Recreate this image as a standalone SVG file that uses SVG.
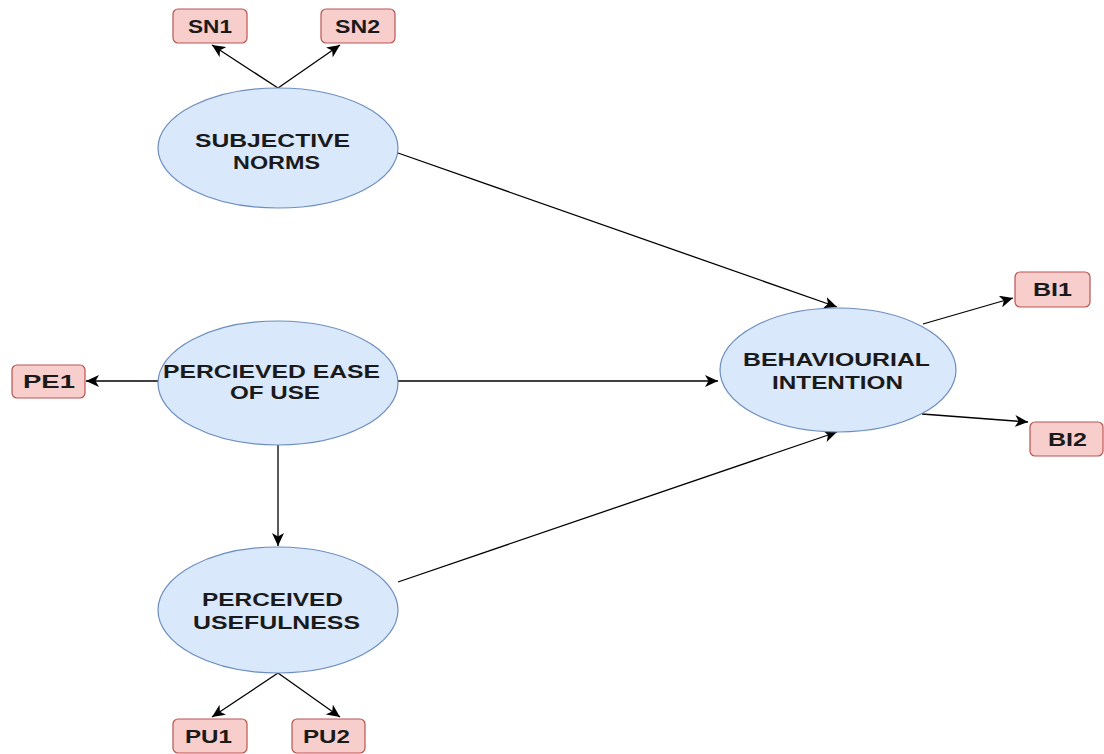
<svg xmlns="http://www.w3.org/2000/svg" width="1104" height="754" viewBox="0 0 1104 754">
<defs>
<marker id="arr" markerUnits="userSpaceOnUse" markerWidth="14" markerHeight="12" viewBox="0 0 14 12" refX="13" refY="6" orient="auto">
<path d="M0,0 L13,6 L0,12 L3.5,6 Z" fill="#000"/>
</marker>
</defs>
<style>
.ell{fill:#dae8fc;stroke:#6c8ebf;stroke-width:1.2}
.box{fill:#f8cecc;stroke:#b85450;stroke-width:1.2}
.t{font-family:"Liberation Sans",Arial,sans-serif;font-weight:bold;font-size:19px;fill:#1a1a1a}
.c{fill:none;stroke:#000;stroke-width:1.3;marker-end:url(#arr)}
</style>
<rect width="1104" height="754" fill="#fff"/>
<g id="connectors">
<line class="c" x1="278" y1="88" x2="212" y2="45"/>
<line class="c" x1="278" y1="88" x2="340" y2="45"/>
<line class="c" x1="398" y1="153" x2="837" y2="307"/>
<line class="c" x1="158" y1="381" x2="86" y2="381"/>
<line class="c" x1="398" y1="381" x2="718" y2="381"/>
<line class="c" x1="278" y1="445" x2="278" y2="546"/>
<line class="c" x1="398" y1="582" x2="837" y2="432"/>
<line class="c" x1="278" y1="673" x2="212" y2="717"/>
<line class="c" x1="278" y1="673" x2="340" y2="717"/>
<line class="c" x1="923" y1="324" x2="1013" y2="298"/>
<line class="c" x1="922" y1="414" x2="1028" y2="422"/>
</g>
<g id="sn">
<ellipse class="ell" cx="278" cy="148" rx="120" ry="60"/>
<text class="t" x="195" y="147" textLength="155" lengthAdjust="spacingAndGlyphs">SUBJECTIVE</text>
<text class="t" x="233" y="169" textLength="87" lengthAdjust="spacingAndGlyphs">NORMS</text>
</g>
<g id="sn1">
<rect class="box" x="173" y="9" width="74" height="34" rx="5"/>
<text class="t" x="188" y="33" textLength="44" lengthAdjust="spacingAndGlyphs">SN1</text>
</g>
<g id="sn2">
<rect class="box" x="321" y="9" width="74" height="34" rx="5"/>
<text class="t" x="335" y="33" textLength="45" lengthAdjust="spacingAndGlyphs">SN2</text>
</g>
<g id="pe">
<ellipse class="ell" cx="278" cy="383" rx="120" ry="62"/>
<text class="t" x="163" y="378" textLength="217" lengthAdjust="spacingAndGlyphs">PERCIEVED EASE</text>
<text class="t" x="230" y="399" textLength="90" lengthAdjust="spacingAndGlyphs">OF USE</text>
</g>
<g id="pe1">
<rect class="box" x="12" y="365" width="73" height="33" rx="5"/>
<text class="t" x="23" y="388" textLength="52" lengthAdjust="spacingAndGlyphs">PE1</text>
</g>
<g id="pu">
<ellipse class="ell" cx="278" cy="610" rx="120" ry="63"/>
<text class="t" x="202" y="606" textLength="141" lengthAdjust="spacingAndGlyphs">PERCEIVED</text>
<text class="t" x="193" y="629" textLength="167" lengthAdjust="spacingAndGlyphs">USEFULNESS</text>
</g>
<g id="pu1">
<rect class="box" x="173" y="719" width="74" height="34" rx="5"/>
<text class="t" x="185" y="743" textLength="47" lengthAdjust="spacingAndGlyphs">PU1</text>
</g>
<g id="pu2">
<rect class="box" x="292" y="719" width="73" height="34" rx="5"/>
<text class="t" x="303" y="743" textLength="47" lengthAdjust="spacingAndGlyphs">PU2</text>
</g>
<g id="bi">
<ellipse class="ell" cx="838" cy="370" rx="118" ry="62"/>
<text class="t" x="743" y="366" textLength="187" lengthAdjust="spacingAndGlyphs">BEHAVIOURIAL</text>
<text class="t" x="772" y="389" textLength="131" lengthAdjust="spacingAndGlyphs">INTENTION</text>
</g>
<g id="bi1">
<rect class="box" x="1015" y="272" width="75" height="35" rx="5"/>
<text class="t" x="1033" y="296" textLength="39" lengthAdjust="spacingAndGlyphs">BI1</text>
</g>
<g id="bi2">
<rect class="box" x="1030" y="422" width="73" height="34" rx="5"/>
<text class="t" x="1048" y="446" textLength="39" lengthAdjust="spacingAndGlyphs">BI2</text>
</g>
</svg>
